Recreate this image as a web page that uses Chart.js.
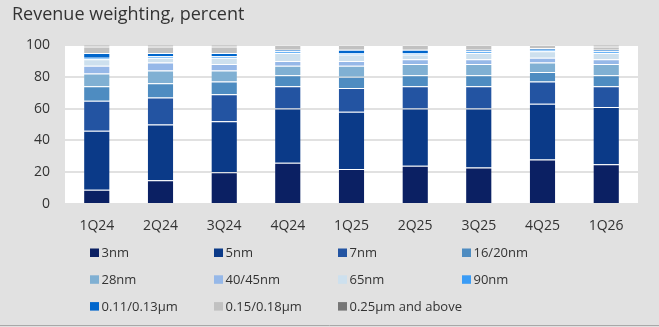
<!DOCTYPE html>
<html>
<head>
<meta charset="utf-8">
<script src="https://cdn.jsdelivr.net/npm/chart.js@4"></script>
<style>
  html, body { margin: 0; padding: 0; background: #e1e1e1; }
  #wrap { width: 659px; height: 327px; position: relative; }
</style>
</head>
<body>
<div id="wrap"><canvas id="c" width="659" height="327"></canvas></div>
<script>
// Quarters on the x axis
const quarters = ['1Q24', '2Q24', '3Q24', '4Q24', '1Q25', '2Q25', '3Q25', '4Q25', '1Q26'];

// Revenue share by process node, percent
const n3nm   = [9, 15, 20, 26, 22, 24, 23, 28, 25];
const n5nm   = [37, 35, 32, 34, 36, 36, 37, 35, 36];
const n7nm   = [19, 17, 17, 14, 15, 14, 14, 14, 13];
const n16nm  = [9, 9, 8, 7, 7, 7, 7, 6, 7];
const n28nm  = [8, 8, 7, 6, 7, 7, 7, 6, 7];
const n40nm  = [5, 5, 4, 3, 3, 3, 3, 3, 3];
const n65nm  = [4, 3, 4, 5, 4, 3, 4, 4, 4];
const n90nm  = [1, 1, 1, 1, 1, 1, 1, 1, 1];
const n011um = [3, 2, 2, 1, 2, 2, 1, 1, 1];
const n015um = [4, 4, 4, 3, 3, 3, 3, 2, 2];
const n025um = [1, 1, 1, 0, 0, 0, 0, 0, 1];

const yTicks = [0, 20, 40, 60, 80, 100];

const series = [
  ['3nm', n3nm, '#0b2063'],
  ['5nm', n5nm, '#0b3a88'],
  ['7nm', n7nm, '#2354a2'],
  ['16/20nm', n16nm, '#4e8cc1'],
  ['28nm', n28nm, '#80b0d3'],
  ['40/45nm', n40nm, '#96b8e8'],
  ['65nm', n65nm, '#cde0ee'],
  ['90nm', n90nm, '#3a9cf6'],
  ['0.11/0.13µm', n011um, '#0066cc'],
  ['0.15/0.18µm', n015um, '#c1c1c1'],
  ['0.25µm and above', n025um, '#767676']
];

const FONT = '"Open Sans", "Noto Sans", sans-serif';
const TEXT = '#333333';
const BG = '#e1e1e1';

// Grey page, white plotting area
const backdrop = {
  id: 'backdrop',
  beforeDraw(chart) {
    const { ctx, chartArea: a } = chart;
    ctx.save();
    ctx.fillStyle = BG;
    ctx.fillRect(0, 0, chart.width, chart.height);
    ctx.fillStyle = '#ffffff';
    ctx.fillRect(a.left, a.top, a.right - a.left, a.bottom - a.top);
    ctx.restore();
  }
};

// Title and a four-column legend below the axis
const annotations = {
  id: 'annotations',
  afterDraw(chart) {
    const ctx = chart.ctx;
    ctx.save();
    ctx.fillStyle = TEXT;
    ctx.font = '18px ' + FONT;
    ctx.textBaseline = 'alphabetic';
    ctx.textAlign = 'left';
    ctx.fillText('Revenue weighting, percent', 12, 20);

    const colX = [90, 214, 338, 462];
    const rowY = [252.7, 279.5, 306.3];
    ctx.font = '13px ' + FONT;
    ctx.textBaseline = 'middle';
    chart.data.datasets.forEach((ds, i) => {
      const x = colX[i % 4];
      const y = rowY[Math.floor(i / 4)];
      ctx.fillStyle = ds.backgroundColor;
      ctx.fillRect(x, y - 4.2, 9, 8.5);
      ctx.fillStyle = TEXT;
      ctx.fillText(ds.label, x + 11.5, y + 0.5);
    });

    ctx.strokeStyle = '#a8a8a8';
    ctx.lineWidth = 1;
    ctx.beginPath();
    ctx.moveTo(0, 325.5);
    ctx.lineTo(chart.width, 325.5);
    ctx.stroke();
    ctx.restore();
  }
};

new Chart(document.getElementById('c'), {
  type: 'bar',
  data: {
    labels: quarters,
    datasets: series.map(([label, data, color]) => ({
      label,
      data,
      backgroundColor: color,
      borderColor: 'rgba(255,255,255,0.35)',
      borderWidth: { top: 1, bottom: 0, left: 0, right: 0 },
      borderSkipped: false,
      barPercentage: 0.4,
      categoryPercentage: 1.0
    }))
  },
  options: {
    responsive: false,
    animation: false,
    devicePixelRatio: 1,
    layout: { padding: { top: 45, right: 21, left: 0, bottom: 0 } },
    plugins: {
      legend: { display: false },
      title: { display: false },
      tooltip: { enabled: false }
    },
    scales: {
      x: {
        stacked: true,
        grid: { display: false, drawTicks: false },
        border: { display: false },
        ticks: { color: TEXT, font: { family: FONT, size: 14 }, padding: 14, maxRotation: 0 },
        afterFit(scale) { scale.height = 123; }
      },
      y: {
        stacked: true,
        min: 0,
        max: 100,
        afterBuildTicks(scale) { scale.ticks = yTicks.map(v => ({ value: v })); },
        grid: { color: BG, lineWidth: 2, drawTicks: false },
        border: { display: false },
        ticks: { color: TEXT, font: { family: FONT, size: 14 }, padding: 15 },
        afterFit(scale) { scale.width = 65; }
      }
    }
  },
  plugins: [backdrop, annotations]
});
</script>
</body>
</html>
